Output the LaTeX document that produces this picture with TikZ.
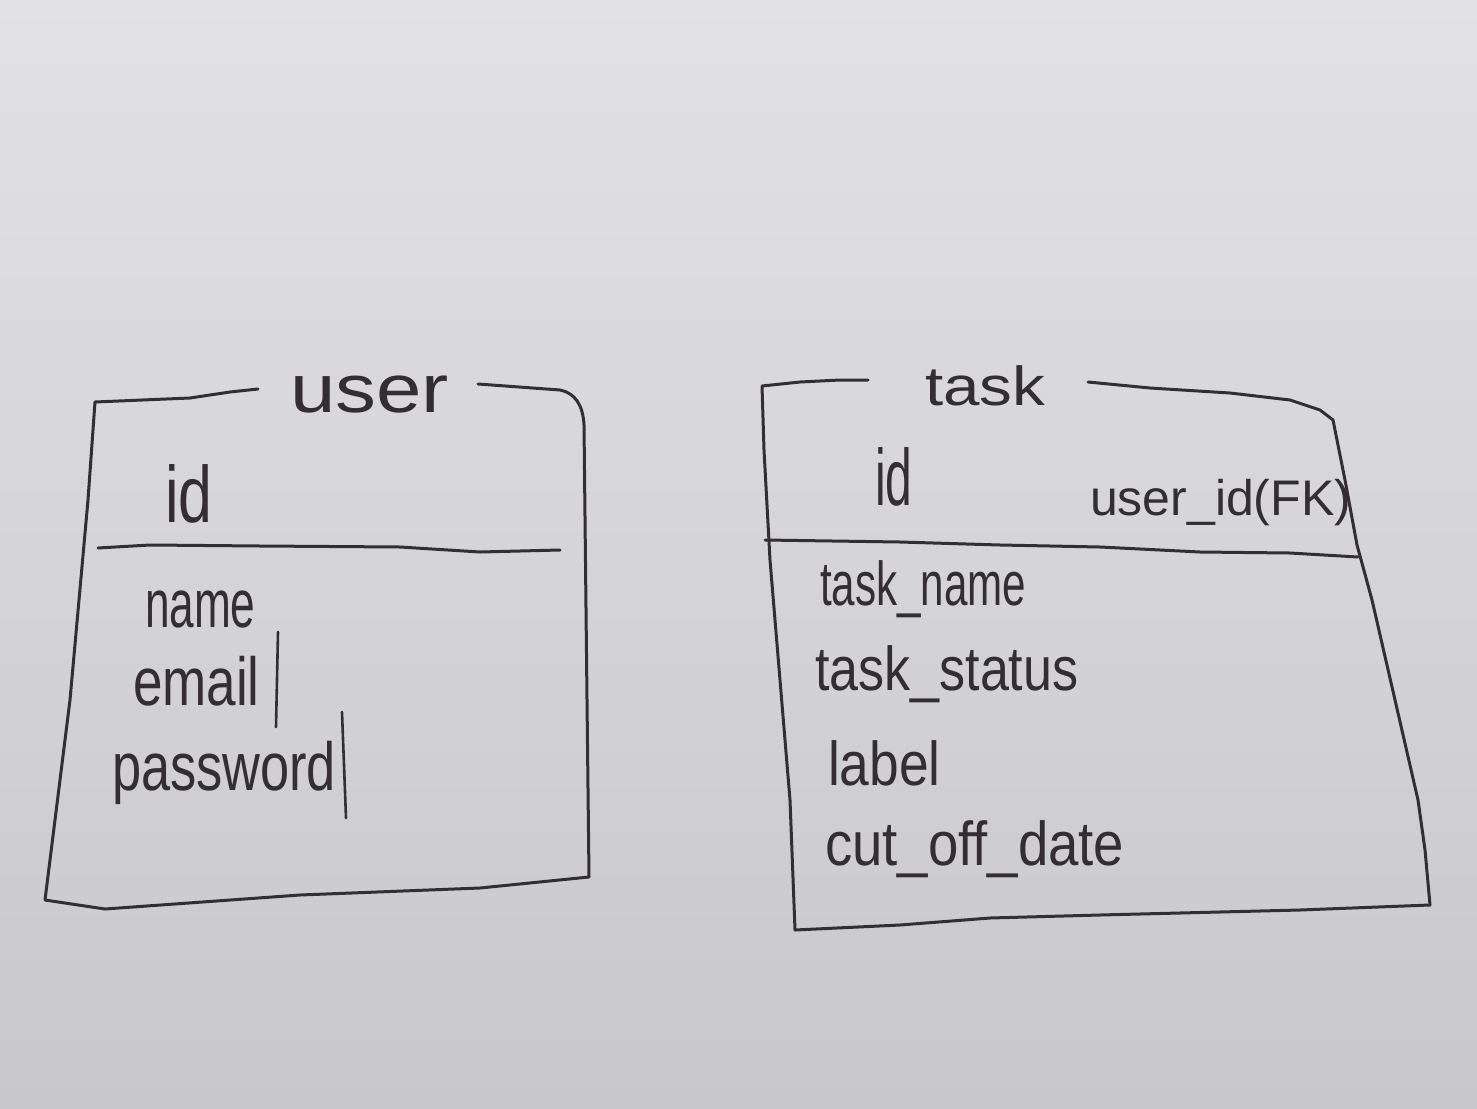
\documentclass[tikz,border=0pt]{standalone}
\usepackage{fontspec}
\setmainfont{Liberation Sans}
\definecolor{ink}{RGB}{50,46,52}
\definecolor{bgtop}{RGB}{226,226,229}
\definecolor{bgmid}{RGB}{216,216,219}
\definecolor{bgbot}{RGB}{200,200,204}
\begin{document}
\begin{tikzpicture}[x=1pt,y=-1pt,
  pen/.style={draw=ink, line width=3pt, line cap=round, line join=round},
  thinpen/.style={draw=ink, line width=2.6pt, line cap=round},
  hw/.style={inner sep=0pt, outer sep=0pt, text=ink, anchor=base west},
  ub/.style={hw, font=\fontsize{68}{80}\selectfont},
  tb/.style={hw, font=\fontsize{62}{74}\selectfont},
  bigid/.style={hw, font=\fontsize{80}{92}\selectfont},
]
\shade[top color=bgtop, middle color=bgmid, bottom color=bgbot] (0,0) rectangle (1477,1108);
\useasboundingbox (0,0) rectangle (1477,1108);

% ---------- user table ----------
\draw[pen] (258,389) -- (230,392) -- (190,398) -- (95,402) -- (88,500) -- (70,700) -- (45,900)
  -- (105,909) -- (300,895) -- (480,888) -- (589,877) -- (587,700) -- (584,425)
  .. controls (583,405) and (575,393) .. (560,390) -- (478,384);
\draw[pen] (98,548) -- (150,545) -- (260,546) -- (400,547) -- (480,552) -- (560,550);

\node[ub] (utitle) at (290,412) {\scalebox{1.2}[1]{user}};
\node[bigid] (uid) at (165,522) {\scalebox{0.76}[1]{id}};
\node[ub] (uname) at (145,627) {\scalebox{0.65}[1]{name}};
\node[ub] (uemail) at (133,705) {\scalebox{0.78}[1]{email}};
\node[ub] (upass) at (112,790) {\scalebox{0.77}[1]{password}};
\draw[thinpen] (278,632) -- (276,727);
\draw[thinpen] (342,712) -- (346,818);

% ---------- task table ----------
\draw[pen] (868,380) -- (840,380) -- (800,382) -- (762,386) -- (764,450) -- (770,560) -- (790,800)
  -- (795,930) -- (900,925) -- (990,918) -- (1100,915) -- (1300,910) -- (1430,905)
  -- (1425,850) -- (1418,800) -- (1395,700) -- (1372,600) -- (1357,545) -- (1345,480)
  -- (1333,420) -- (1320,410) -- (1290,400) -- (1230,393) -- (1150,388) -- (1088,382);
\draw[pen] (765,540) -- (900,542) -- (1000,545) -- (1100,547) -- (1200,552) -- (1290,553) -- (1358,557);

\node[hw, font=\fontsize{55}{66}\selectfont] (ttitle) at (925,405) {\scalebox{1.19}[1]{task}};
\node[bigid] (tid) at (875,505) {\scalebox{0.6}[1]{id}};
\node[hw, font=\fontsize{50}{60}\selectfont] (tfk) at (1090,515) {user\_id(FK)};
\node[tb] (tname) at (820,605) {\scalebox{0.68}[1]{task\_name}};
\node[tb] (tstatus) at (815,690) {\scalebox{0.84}[1]{task\_status}};
\node[tb] (tlabel) at (828,785) {\scalebox{0.86}[1]{label}};
\node[tb] (tdate) at (825,865) {\scalebox{0.88}[1]{cut\_off\_date}};
\end{tikzpicture}
\end{document}
